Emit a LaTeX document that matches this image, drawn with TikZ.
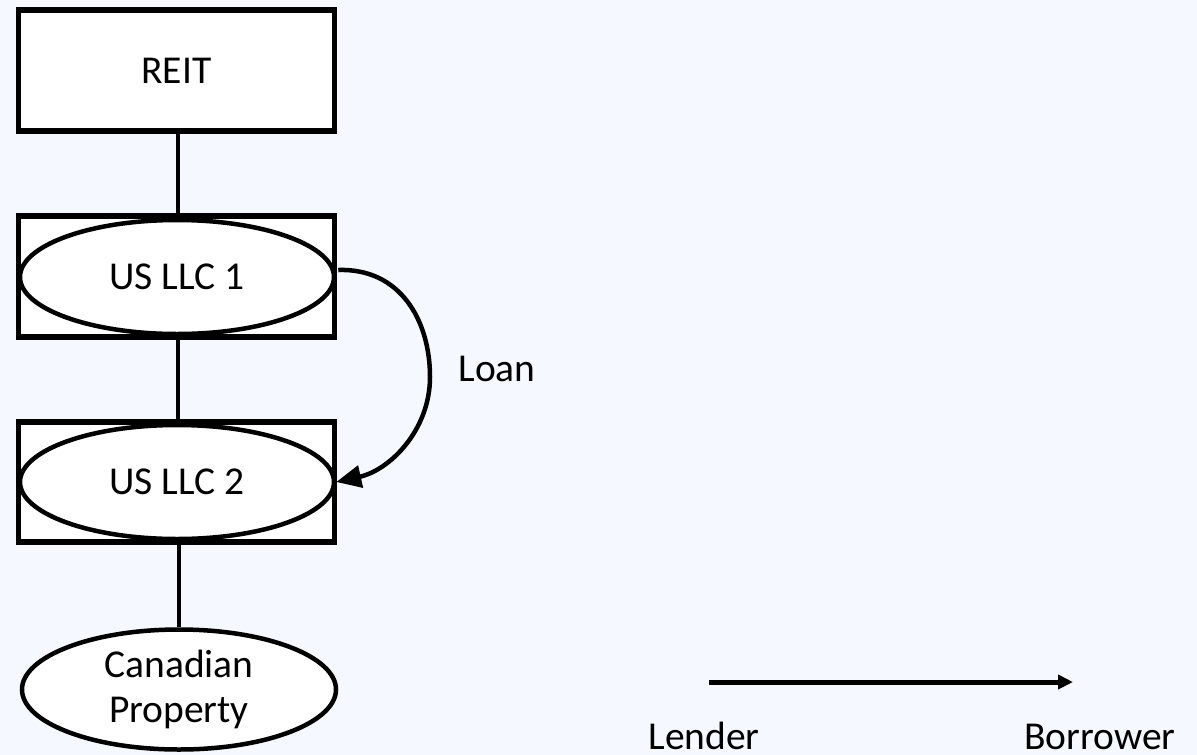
\documentclass[tikz,border=0pt]{standalone}
\usepackage{fontspec}
\setmainfont{Carlito}
\usetikzlibrary{arrows.meta,shapes.geometric,calc}
\definecolor{pagebg}{RGB}{245,248,254}
\begin{document}
\begin{tikzpicture}[x=1pt,y=-1pt,
  every node/.style={font=\fontsize{39.5}{45}\selectfont},
  entitybox/.style={draw,line width=5.5pt,fill=white,minimum width=316pt,inner sep=0pt},
  oval/.style={ellipse,draw,line width=4.5pt,fill=white,inner sep=0pt,minimum width=314pt},
  link/.style={line width=4.5pt},
  lbl/.style={anchor=base,inner sep=0pt}]
  % page
  \fill[pagebg] (0,0) rectangle (1197,755);
  \useasboundingbox (0,0) rectangle (1197,755);

  % ownership chain
  \node[entitybox,minimum height=121pt] (reit) at (176.5,70.5) {REIT};
  \node[entitybox,minimum height=121pt] (r1) at (176.5,276.5) {};
  \node[oval,minimum height=114pt] (u1) at (177,277) {US LLC 1};
  \node[entitybox,minimum height=120pt] (r2) at (176.5,482) {};
  \node[oval,minimum height=114pt] (u2) at (177,482) {US LLC 2};
  \node[oval,minimum height=120pt,align=center] (cp) at (179,689.5) {Canadian\\Property};

  \draw[link] (reit.south -| 178,0) -- (r1.north -| 178,0);
  \draw[link] (r1.south -| 178,0) -- (r2.north -| 178,0);
  \draw[link] (cp.north |- r2.south) -- (cp.north);

  % intercompany loan
  \coordinate (bend) at (430,377);
  \draw[link,-{Triangle[length=25pt,width=22pt]}]
    ($(u1.east)+(2,-7)$) .. controls (400,268) and (430,320) .. (bend)
    .. controls (430,430) and (390,470) .. (u2.east);
  \node[lbl] (loan) at (497,381) {Loan};

  % legend
  \coordinate (lfrom) at (709,682);
  \coordinate (lto) at (1073,682);
  \draw[line width=5pt,-{Triangle[length=15pt,width=14pt]}] (lfrom) -- (lto);
  \node[lbl] (lender) at (704,749) {Lender};
  \node[lbl] (borrower) at (1100,749) {Borrower};
\end{tikzpicture}
\end{document}
